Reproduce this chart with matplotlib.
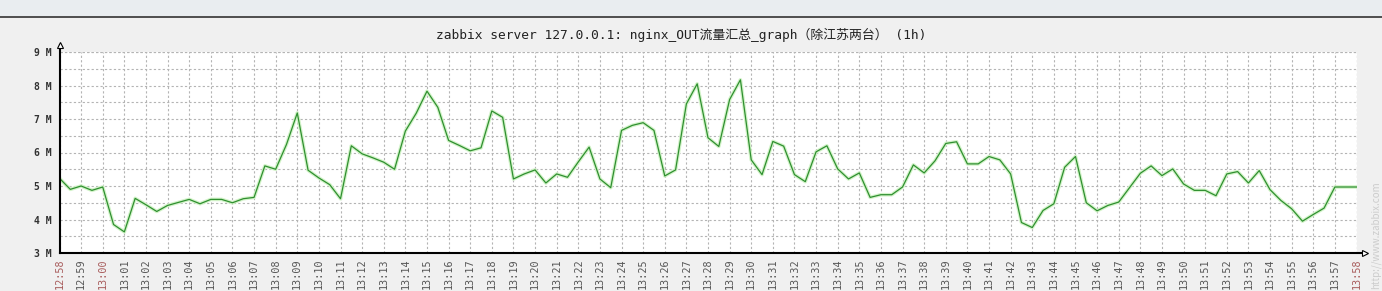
import numpy as np
import matplotlib
matplotlib.use('Agg')
import matplotlib.pyplot as plt
from matplotlib.patches import Rectangle
from matplotlib.lines import Line2D

plt.rcParams['font.family'] = ['Noto Sans CJK SC', 'DejaVu Sans']

# samples every 30 s starting 12:58, values in M (bytes/s)
step_min = 0.5
traffic = [5.23, 4.90, 5.00, 4.87, 4.97, 3.85, 3.63, 4.63, 4.44, 4.24,
           4.42, 4.51, 4.60, 4.47, 4.60, 4.60, 4.50, 4.62, 4.66, 5.60,
           5.50, 6.24, 7.18, 5.47, 5.24, 5.04, 4.62, 6.20, 5.96, 5.84,
           5.71, 5.50, 6.64, 7.17, 7.83, 7.35, 6.36, 6.21, 6.05, 6.14,
           7.24, 7.05, 5.21, 5.36, 5.48, 5.09, 5.36, 5.26, 5.72, 6.16,
           5.21, 4.95, 6.66, 6.81, 6.89, 6.66, 5.30, 5.48, 7.45, 8.05,
           6.44, 6.18, 7.58, 8.17, 5.78, 5.34, 6.33, 6.19, 5.34, 5.13,
           6.02, 6.20, 5.51, 5.21, 5.39, 4.66, 4.74, 4.74, 4.97, 5.63,
           5.39, 5.75, 6.27, 6.32, 5.66, 5.66, 5.88, 5.78, 5.36, 3.91,
           3.76, 4.27, 4.47, 5.56, 5.88, 4.50, 4.26, 4.42, 4.52, 4.95,
           5.38, 5.60, 5.31, 5.51, 5.06, 4.87, 4.87, 4.71, 5.36, 5.43,
           5.09, 5.46, 4.89, 4.57, 4.32, 3.95, 4.15, 4.34, 4.97, 4.97,
           4.97]
minutes = np.arange(len(traffic)) * step_min

tick_labels = ['12:58', '12:59'] + ['13:%02d' % m for m in range(0, 59)]
red_labels = ['12:58', '13:00', '13:58']
y_labels = ['3 M', '4 M', '5 M', '6 M', '7 M', '8 M', '9 M']
title = 'zabbix server 127.0.0.1: nginx_OUT流量汇总_graph（除江苏两台） (1h)'

W, H = 1382, 291
fig = plt.figure(figsize=(W / 100, H / 100), dpi=100)
fig.patch.set_facecolor('#f0f0f0')

# top header band
fig.patches.append(Rectangle((0, 1 - 16 / H), 1, 16 / H, transform=fig.transFigure,
                             facecolor='#e9edf0', edgecolor='none', zorder=0))
fig.lines.append(Line2D([0, 1], [1 - 16.5 / H, 1 - 16.5 / H], transform=fig.transFigure,
                        color='#333333', linewidth=1.2))

fig.text(681 / W, 1 - 35 / H, title, ha='center', va='center', fontsize=9.3, color='#222222',
         family=['DejaVu Sans Mono', 'Noto Sans CJK SC'])

left, right, top, bottom = 59.5, 1356.5, 52, 253
ax = fig.add_axes([left / W, 1 - bottom / H, (right - left) / W, (bottom - top) / H])
ax.set_facecolor('white')

ax.plot(minutes, traffic, color='#d2f3c8', linewidth=2.6, zorder=3, solid_joinstyle='round')
ax.plot(minutes, traffic, color='#2f8f30', linewidth=0.9, zorder=4)

ax.set_xlim(0, 60)
ax.set_ylim(3, 9)

ax.set_yticks(range(3, 10))
ax.set_yticklabels(y_labels, family='DejaVu Sans Mono', fontsize=7, fontweight='bold', color='#333333')
ax.set_yticks(np.arange(3.5, 9, 1.0), minor=True)
ax.set_xticks(range(0, 61))
ax.set_xticklabels(tick_labels, family='DejaVu Sans Mono', fontsize=7.3, rotation=90, color='#555555')
for lab in ax.get_xticklabels():
    if lab.get_text() in red_labels:
        lab.set_color('#a85c5c')
ax.tick_params(axis='both', which='both', length=0)
ax.tick_params(axis='y', pad=6)
ax.tick_params(axis='x', pad=4)

ax.grid(True, which='both', color='#b4b4b4', linestyle=(0, (2, 2)), linewidth=0.8)
ax.set_axisbelow(True)
for s in ax.spines.values():
    s.set_visible(False)
ax.plot([60, 60], [3, 9], color='#b4b4b4', linestyle=(0, (2, 2)), linewidth=0.8, zorder=1)
ax.plot([0, 60], [9, 9], color='#b4b4b4', linestyle=(0, (2, 2)), linewidth=0.8, zorder=1)

# axes with arrow heads
ax.plot([0, 0], [3, 9.2], color='black', linewidth=1.5, clip_on=False, zorder=5)
ax.plot([0], [9.22], marker='^', markersize=5, markerfacecolor='white',
        markeredgecolor='black', markeredgewidth=0.8, clip_on=False, zorder=6)
ax.plot([0, 60.35], [3, 3], color='black', linewidth=1.5, clip_on=False, zorder=5)
ax.plot([60.4], [3], marker='>', markersize=5, markerfacecolor='white',
        markeredgecolor='black', markeredgewidth=0.8, clip_on=False, zorder=6)

fig.text(1376 / W, 2 / H, 'http://www.zabbix.com', rotation=90, ha='center', va='bottom',
         fontsize=7, color='#cccccc')

fig.savefig('out.png', dpi=100, facecolor=fig.get_facecolor())
